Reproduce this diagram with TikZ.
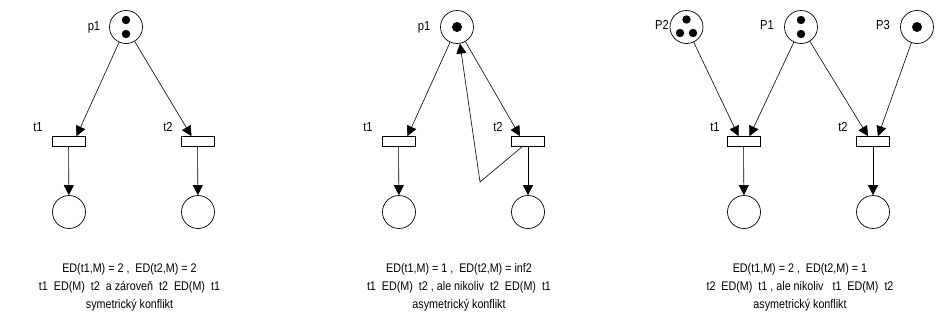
\documentclass[tikz,border=0pt]{standalone}
\usepackage{fontspec}
\setmainfont{Liberation Sans}
\newfontfamily\narrowfont[FakeStretch=0.86]{Liberation Sans}
\usetikzlibrary{arrows.meta}
\begin{document}
\begin{tikzpicture}[x=1pt,y=-1pt,
  place/.style={draw,circle,line width=0.7pt,minimum size=33,inner sep=0pt},
  trans/.style={draw,rectangle,line width=0.7pt,minimum width=33,minimum height=10,inner sep=0pt},
  tok/.style={fill=black},
  arc/.style={line width=0.6pt,-{Triangle[length=10pt,width=10pt]}},
  lbl/.style={font=\narrowfont\fontsize{13}{13}\selectfont,inner sep=0pt},
  caption/.style={font=\narrowfont\fontsize{12.5}{18}\selectfont,align=center,inner sep=0pt}]
\useasboundingbox (0,0) rectangle (945,327);

% ---- symmetric conflict ----
\node[place] (ap1) at (126,27) {};
\fill[tok] (126,20) circle (4.2) (126,34) circle (4.2);
\node[lbl] (lap1) at (94,27) {p1};
\node[trans] (at1) at (68.5,141.5) {};
\node[trans] (at2) at (197.5,141.5) {};
\node[lbl] (lat1) at (38,127) {t1};
\node[lbl] (lat2) at (168,127) {t2};
\node[place] (ao1) at (69,212) {};
\node[place] (ao2) at (198,212) {};
\draw[arc] (ap1) -- ([xshift=8]at1.north);
\draw[arc] (ap1) -- ([xshift=-6]at2.north);
\draw[arc] (at1) -- (ao1);
\draw[arc] (at2) -- (ao2);
\node[caption] (acap) at (129.5,287) {ED(t1,M) = 2 ,\ \ ED(t2,M) = 2\\t1\ \ ED(M)\ \ t2\ \ a zároveň\ \ t2\ \ ED(M)\ \ t1\\symetrický konflikt};

% ---- asymmetric conflict with self loop ----
\node[place] (bp1) at (457,27) {};
\fill[tok] (457,27) circle (5);
\node[lbl] (lbp1) at (424,27) {p1};
\node[trans] (bt1) at (398.5,141.5) {};
\node[trans] (bt2) at (528,141.5) {};
\node[lbl] (lbt1) at (368,127) {t1};
\node[lbl] (lbt2) at (498,127) {t2};
\node[place] (bo1) at (399,212) {};
\node[place] (bo2) at (528,212) {};
\coordinate (bk) at (480,182);
\draw[arc] (bp1) -- ([xshift=9]bt1.north);
\draw[arc] (bp1) -- ([xshift=-8]bt2.north);
\draw[arc] (bt1) -- (bo1);
\draw[arc] (bt2) -- (bo2);
\draw[arc] ([xshift=-6]bt2.south) -- (bk) -- (bp1.-80);
\node[caption] (bcap) at (459,287) {ED(t1,M) = 1 ,\ \ ED(t2,M) = inf2\\t1\ \ ED(M)\ \ t2 , ale nikoliv\ \ t2\ \ ED(M)\ \ t1\\asymetrický konflikt};

% ---- asymmetric conflict, three places ----
\node[place] (cp2) at (686.5,27) {};
\fill[tok] (686.5,19.5) circle (4.2) (680,33) circle (4.2) (693,33) circle (4.2);
\node[lbl] (lcp2) at (662,25) {P2};
\node[place] (cp1) at (801,27) {};
\fill[tok] (801,20) circle (4.2) (801,34) circle (4.2);
\node[lbl] (lcp1) at (767,25) {P1};
\node[place] (cp3) at (917,27) {};
\fill[tok] (917,27) circle (5);
\node[lbl] (lcp3) at (883,25) {P3};
\node[trans] (ct1) at (743.5,141.5) {};
\node[trans] (ct2) at (873,141.5) {};
\node[lbl] (lct1) at (715,127) {t1};
\node[lbl] (lct2) at (843,127) {t2};
\node[place] (co1) at (744,212) {};
\node[place] (co2) at (873,212) {};
\draw[arc] (cp2) -- ([xshift=-5]ct1.north);
\draw[arc] (cp1) -- ([xshift=6]ct1.north);
\draw[arc] (cp1) -- ([xshift=-5]ct2.north);
\draw[arc] (cp3) -- ([xshift=5]ct2.north);
\draw[arc] (ct1) -- (co1);
\draw[arc] (ct2) -- (co2);
\node[caption] (ccap) at (800,287) {ED(t1,M) = 2 ,\ \ ED(t2,M) = 1\\t2\ \ ED(M)\ \ t1 , ale nikoliv\ \ \ t1\ \ ED(M)\ \ t2\\asymetrický konflikt};
\end{tikzpicture}
\end{document}
